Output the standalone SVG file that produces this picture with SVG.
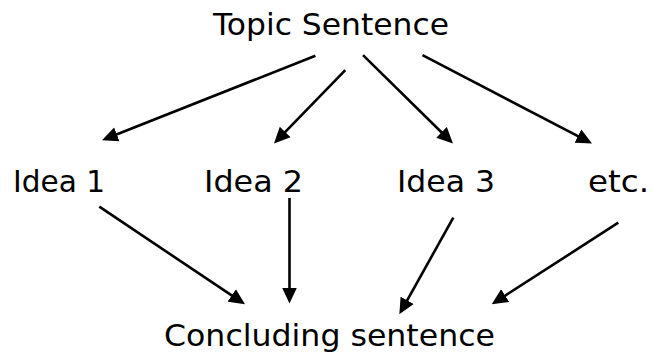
<svg xmlns="http://www.w3.org/2000/svg" width="652" height="356" viewBox="0 0 652 356">
<style>
.lbl{font-family:"DejaVu Sans","Liberation Sans",sans-serif;font-size:31px;fill:#000}
.cn{stroke:#000;stroke-width:2.6;fill:none;marker-end:url(#ah)}
</style>
<defs>
<marker id="ah" viewBox="0 0 16 16" refX="12" refY="8" markerWidth="16" markerHeight="16" markerUnits="userSpaceOnUse" orient="auto">
<path d="M0,0.5 L16,8 L0,15.5 z" fill="#000"/>
</marker>
</defs>
<rect width="652" height="356" fill="#fff"/>
<g id="topic"><text class="lbl" x="213" y="35" textLength="236" lengthAdjust="spacingAndGlyphs">Topic Sentence</text></g>
<g id="idea1"><text class="lbl" x="13" y="192" textLength="92" lengthAdjust="spacingAndGlyphs">Idea 1</text></g>
<g id="idea2"><text class="lbl" x="204" y="192" textLength="99" lengthAdjust="spacingAndGlyphs">Idea 2</text></g>
<g id="idea3"><text class="lbl" x="397" y="192" textLength="98" lengthAdjust="spacingAndGlyphs">Idea 3</text></g>
<g id="etc"><text class="lbl" x="588" y="192" textLength="61" lengthAdjust="spacingAndGlyphs">etc.</text></g>
<g id="concluding"><text class="lbl" x="164" y="346" textLength="331" lengthAdjust="spacingAndGlyphs">Concluding sentence</text></g>
<g id="connectors">
<line class="cn" x1="315.4" y1="55.7" x2="105.7" y2="138.8"/>
<line class="cn" x1="345.3" y1="70.1" x2="276.8" y2="140.6"/>
<line class="cn" x1="363" y1="55.1" x2="450.1" y2="140.7"/>
<line class="cn" x1="422.5" y1="55.1" x2="588.5" y2="141.7"/>
<line class="cn" x1="99.3" y1="206.7" x2="241.7" y2="302.1"/>
<line class="cn" x1="289.5" y1="198" x2="289.5" y2="299.5"/>
<line class="cn" x1="453.3" y1="217.7" x2="401.3" y2="310.8"/>
<line class="cn" x1="618.3" y1="222.7" x2="495.1" y2="302.1"/>
</g>
</svg>
